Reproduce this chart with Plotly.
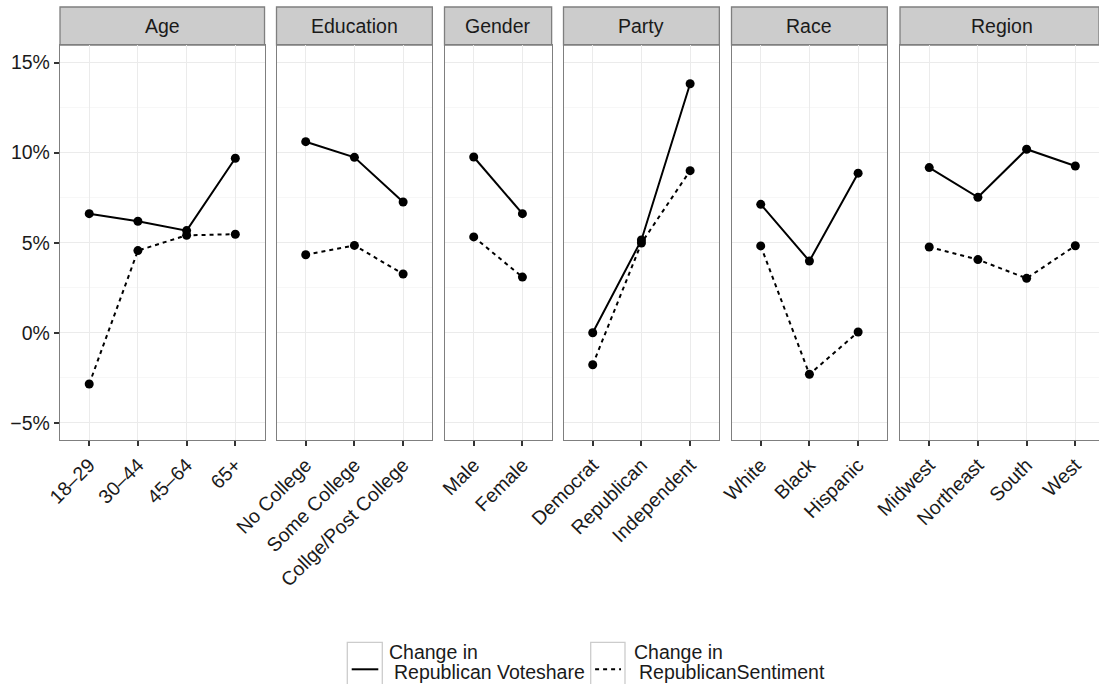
import plotly.graph_objects as go

# ---- data (percentage-point change) ----
facets = ["Age", "Education", "Gender", "Party", "Race", "Region"]

age_cats = ["18–29", "30–44", "45–64", "65+"]
edu_cats = ["No College", "Some College", "Collge/Post College"]
gender_cats = ["Male", "Female"]
party_cats = ["Democrat", "Republican", "Independent"]
race_cats = ["White", "Black", "Hispanic"]
region_cats = ["Midwest", "Northeast", "South", "West"]

voteshare_age = [6.61, 6.19, 5.67, 9.69]
sentiment_age = [-2.85, 4.56, 5.41, 5.47]
voteshare_edu = [10.61, 9.74, 7.26]
sentiment_edu = [4.33, 4.85, 3.26]
voteshare_gender = [9.76, 6.61]
sentiment_gender = [5.32, 3.09]
voteshare_party = [0.0, 5.15, 13.83]
sentiment_party = [-1.78, 4.98, 9.0]
voteshare_race = [7.13, 3.98, 8.86]
sentiment_race = [4.82, -2.31, 0.04]
voteshare_region = [9.17, 7.52, 10.19, 9.26]
sentiment_region = [4.76, 4.06, 3.02, 4.83]

series_names = ["Change in Republican Voteshare", "Change in RepublicanSentiment"]

panels = [
    (age_cats, voteshare_age, sentiment_age),
    (edu_cats, voteshare_edu, sentiment_edu),
    (gender_cats, voteshare_gender, sentiment_gender),
    (party_cats, voteshare_party, sentiment_party),
    (race_cats, voteshare_race, sentiment_race),
    (region_cats, voteshare_region, sentiment_region),
]

# ---- layout geometry (pixels) ----
W, H = 1099, 684
UNIT = 48.7                      # pixels per category step
panel_left = [60, 276.5, 444.5, 563.5, 731.5, 900]
panel_top, panel_bottom = 45, 440
strip_top = 7
y_range = [-5.96, 15.98]

FONT = "Liberation Sans, Arial, sans-serif"
FS = 19.5
BORDER = "#7F7F7F"
INK = "#1A1A1A"


def px(x):
    return x / W


def py(y):
    return 1 - y / H


fig = go.Figure()
shapes = []
annotations = []

for i, (cats, vote, sent) in enumerate(panels):
    n = len(cats)
    left = panel_left[i]
    full_right = left + UNIT * (n + 0.2)
    right = min(full_right, W)
    x_hi = -0.6 + (right - left) / UNIT
    sfx = "" if i == 0 else str(i + 1)
    xa, ya = "x" + sfx, "y" + sfx

    # lines first, points on top
    fig.add_trace(go.Scatter(x=cats, y=vote, mode="lines", xaxis=xa, yaxis=ya,
                             line=dict(color="black", width=2),
                             name=series_names[0], showlegend=False))
    fig.add_trace(go.Scatter(x=cats, y=sent, mode="lines", xaxis=xa, yaxis=ya,
                             line=dict(color="black", width=2, dash="4px,4px"),
                             name=series_names[1], showlegend=False))
    for vals, nm in ((vote, series_names[0]), (sent, series_names[1])):
        fig.add_trace(go.Scatter(x=cats, y=vals, mode="markers", xaxis=xa, yaxis=ya,
                                 marker=dict(color="black", size=9),
                                 name=nm, showlegend=False))

    fig.layout["xaxis" + sfx] = dict(
        domain=[px(left), px(right)], anchor=ya, type="category",
        categoryorder="array", categoryarray=cats, range=[-0.6, x_hi],
        showgrid=True, gridcolor="#EBEBEB", gridwidth=1,
        showline=True, mirror=True, linecolor=BORDER, linewidth=1.3,
        ticks="outside", ticklen=5, tickwidth=1.5, tickcolor="#333333",
        tickangle=-45, tickfont=dict(family=FONT, size=FS, color=INK),
        zeroline=False, fixedrange=True,
    )
    fig.layout["yaxis" + sfx] = dict(
        domain=[py(panel_bottom), py(panel_top)], anchor=xa,
        range=y_range, tick0=0, dtick=5, ticksuffix="%",
        showgrid=True, gridcolor="#EBEBEB", gridwidth=1,
        minor=dict(dtick=2.5, tick0=0, showgrid=True, gridcolor="#F7F7F7", gridwidth=1),
        showline=True, mirror=(full_right <= W), linecolor=BORDER, linewidth=1.3,
        ticks="outside" if i == 0 else "", ticklen=5, tickwidth=1.5, tickcolor="#333333",
        showticklabels=(i == 0), tickfont=dict(family=FONT, size=FS, color=INK),
        zeroline=False, fixedrange=True,
    )

    # facet strip
    shapes.append(dict(type="rect", xref="paper", yref="paper",
                       x0=px(left), x1=px(right), y0=py(panel_top), y1=py(strip_top),
                       fillcolor="#CCCCCC", line=dict(color=BORDER, width=1.3), layer="below"))
    annotations.append(dict(text=facets[i], xref="paper", yref="paper",
                            x=px((left + full_right) / 2), y=py((strip_top + panel_top) / 2),
                            xanchor="center", yanchor="middle", showarrow=False,
                            font=dict(family=FONT, size=FS, color=INK)))

# ---- legend drawn as keys + labels ----
legend_items = [
    dict(box=(347.3, 382.3), dash="solid", x_text=387.3, indent=4.4),
    dict(box=(590.7, 625.0), dash="4px,4px", x_text=631.7, indent=5.0),
]
legend_lines = [("Change in", "Republican Voteshare"), ("Change in", "RepublicanSentiment")]
for item, (l1, l2) in zip(legend_items, legend_lines):
    b0, b1 = item["box"]
    shapes.append(dict(type="rect", xref="paper", yref="paper",
                       x0=px(b0), x1=px(b1), y0=py(696), y1=py(642.3),
                       fillcolor="white", line=dict(color="#CCCCCC", width=1.3)))
    shapes.append(dict(type="line", xref="paper", yref="paper",
                       x0=px(b0 + 4.4), x1=px(b1 - 4), y0=py(669.3), y1=py(669.3),
                       line=dict(color="black", width=2, dash=item["dash"])))
    annotations.append(dict(text=l1, xref="paper", yref="paper",
                            x=px(item["x_text"]), y=py(651.7), xanchor="left", yanchor="middle",
                            showarrow=False, font=dict(family=FONT, size=FS, color=INK)))
    annotations.append(dict(text=l2, xref="paper", yref="paper",
                            x=px(item["x_text"] + item["indent"]), y=py(671.7),
                            xanchor="left", yanchor="middle",
                            showarrow=False, font=dict(family=FONT, size=FS, color=INK)))

fig.update_layout(
    width=W, height=H,
    margin=dict(l=0, r=0, t=0, b=0, autoexpand=False),
    paper_bgcolor="white", plot_bgcolor="white",
    showlegend=False,
    shapes=shapes, annotations=annotations,
    font=dict(family=FONT, size=FS, color=INK),
)

fig.write_html("out.html")
